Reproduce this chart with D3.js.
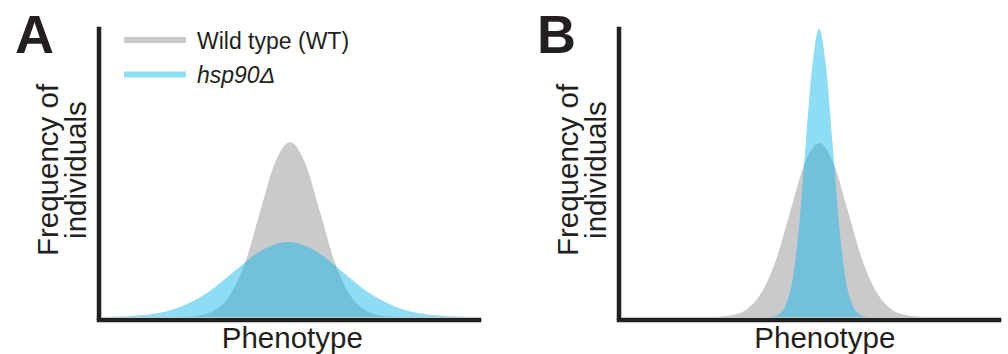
<!DOCTYPE html>
<html>
<head>
<meta charset="utf-8">
<script src="https://cdn.jsdelivr.net/npm/d3@7"></script>
<style>
  body { margin: 0; background: #fff; }
  text { font-family: "Liberation Sans", Arial, Helvetica, sans-serif; fill: #231f20; }
</style>
</head>
<body>
<div id="chart"></div>
<script>
"use strict";

// values (phenotype 0-100 along the axis, frequency 0-100 up the axis)
const panelLabels = ["A", "B"];
const seriesNames = ["Wild type (WT)", "hsp90\u0394"];
const xLabel = "Phenotype";
const yLabelLines = ["Frequency of", "individuals"];

const wtPhenotypeA = [19.4, 23.2, 27.1, 31.0, 34.9, 38.8, 42.6, 46.5, 50.4, 54.3, 58.2, 62.0, 65.9, 69.8, 73.7, 77.6, 81.4];
const wtFrequencyA = [0, 0.1, 0.7, 2.7, 8.2, 19.7, 36.8, 53.6, 60.7, 53.6, 36.8, 19.7, 8.2, 2.7, 0.7, 0.1, 0];
const hspPhenotypeA = [0.2, 7.3, 14.4, 21.5, 28.6, 35.7, 42.8, 49.9, 57.0, 64.1, 71.2, 78.3, 85.4, 92.5, 99.6];
const hspFrequencyA = [0, 0.3, 1.1, 3.5, 8.4, 15.8, 23.0, 26.0, 23.0, 15.8, 8.4, 3.5, 1.1, 0.3, 0];

const wtPhenotypeB = [22.3, 26.1, 29.9, 33.7, 37.5, 41.4, 45.2, 49.0, 52.8, 56.6, 60.4, 64.2, 68.1, 71.9, 75.7, 79.5, 83.3];
const wtFrequencyB = [0, 0.1, 0.7, 2.6, 8.2, 19.6, 36.6, 53.2, 60.3, 53.2, 36.6, 19.6, 8.2, 2.6, 0.7, 0.1, 0];
const hspPhenotypeB = [38.9, 40.7, 42.4, 44.1, 45.9, 47.6, 49.3, 51.1, 52.8, 54.5, 56.3, 58.0, 59.7, 61.5, 63.2, 64.9, 66.7];
const hspFrequencyB = [0, 0.2, 1.1, 4.4, 13.5, 32.5, 60.7, 88.3, 100, 88.3, 60.7, 32.5, 13.5, 4.4, 1.1, 0.2, 0];

const xLabelAt = [51.0, 54.3];

const svgWidth = 1008;
const svgHeight = 354;
const axisColor = "#231f20";
const wtColor = "#c8cacc";
const hspColor = "#12b4ea";

const panels = [
  { left: 98.5, wt: [wtPhenotypeA, wtFrequencyA], hsp: [hspPhenotypeA, hspFrequencyA], letterX: 15 },
  { left: 618.5, wt: [wtPhenotypeB, wtFrequencyB], hsp: [hspPhenotypeB, hspFrequencyB], letterX: 537 }
];

const svg = d3.select("#chart")
  .append("svg")
  .attr("width", svgWidth)
  .attr("height", svgHeight);

const yScale = d3.scaleLinear()
  .domain([0, 100])
  .range([317, 28.5]);

const zip = (xs, ys) => xs.map((v, i) => [v, ys[i]]);

panels.forEach((p, idx) => {
  const xScale = d3.scaleLinear()
    .domain([0, 100])
    .range([p.left, p.left + 380]);

  const area = d3.area()
    .x(d => xScale(d[0]))
    .y0(yScale(0))
    .y1(d => yScale(d[1]))
    .curve(d3.curveMonotoneX);

  const g = svg.append("g");

  g.append("path")
    .datum(zip(p.wt[0], p.wt[1]))
    .attr("d", area)
    .attr("fill", wtColor);

  g.append("path")
    .datum(zip(p.hsp[0], p.hsp[1]))
    .attr("d", area)
    .attr("fill", hspColor)
    .attr("fill-opacity", 0.47);

  const xAxis = d3.axisBottom(xScale).tickValues([]).tickSizeOuter(0);
  const yAxis = d3.axisLeft(yScale).tickValues([]).tickSizeOuter(0);

  g.append("g")
    .attr("transform", `translate(0, ${yScale(0) + 2.5})`)
    .call(xAxis);
  g.append("g")
    .attr("transform", `translate(${p.left}, 0)`)
    .call(yAxis);

  g.selectAll(".domain")
    .attr("stroke", axisColor)
    .attr("stroke-width", 4.5)
    .attr("stroke-linecap", "square");

  g.append("text")
    .attr("x", p.letterX)
    .attr("y", 53)
    .attr("font-size", 54)
    .attr("font-weight", "bold")
    .text(panelLabels[idx]);

  g.append("text")
    .attr("x", xScale(xLabelAt[idx]))
    .attr("y", 348)
    .attr("text-anchor", "middle")
    .attr("font-size", 29.5)
    .text(xLabel);

  const yl = g.append("text")
    .attr("transform", `translate(${p.left - 41}, 170) rotate(-90)`)
    .attr("text-anchor", "middle")
    .attr("font-size", 29.5);
  yLabelLines.forEach((line, i) => {
    yl.append("tspan")
      .attr("x", 0)
      .attr("y", i * 28.5)
      .text(line);
  });
});

// legend (panel A only)
const legend = svg.append("g").attr("transform", "translate(124, 0)");
const legendRows = [
  { name: seriesNames[0], color: wtColor, opacity: 1, y: 40, italic: false },
  { name: seriesNames[1], color: hspColor, opacity: 0.47, y: 74.5, italic: true }
];
legendRows.forEach(r => {
  legend.append("line")
    .attr("x1", 0)
    .attr("x2", 62)
    .attr("y1", r.y)
    .attr("y2", r.y)
    .attr("stroke", r.color)
    .attr("stroke-opacity", r.opacity)
    .attr("stroke-width", 6);
  legend.append("text")
    .attr("x", 73)
    .attr("y", r.y + 8.5)
    .attr("font-size", 23)
    .attr("font-style", r.italic ? "italic" : "normal")
    .text(r.name);
});
</script>
</body>
</html>
